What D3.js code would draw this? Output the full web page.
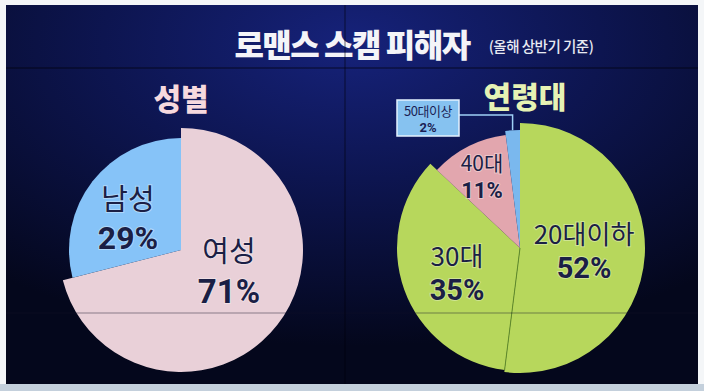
<!DOCTYPE html>
<html><head><meta charset="utf-8">
<script src="https://cdn.jsdelivr.net/npm/d3@7"></script>
<style>html,body{margin:0;padding:0;background:#fff;}svg{display:block;}</style>
</head><body>
<svg id="c" width="704" height="391"></svg>
<script>
const title = "로맨스 스캠 피해자";
const subtitle = "(올해 상반기 기준)";
const genderTitle = "성별";
const genderLabels = ["여성", "남성"];
const genderValues = [71, 29];
const ageTitle = "연령대";
const ageLabels = ["20대이하", "30대", "40대", "50대이상"];
const ageValues = [52, 35, 11, 2];

const svg = d3.select("#c");
const font = "'Noto Sans CJK KR','Noto Sans',sans-serif";
const numFont = "Roboto,'Noto Sans',sans-serif";
const defs = svg.append("defs");
const bg = defs.append("radialGradient").attr("id","bg").attr("cx","50%").attr("cy","10%").attr("r","80%");
bg.append("stop").attr("offset","0%").attr("stop-color","#16227a");
bg.append("stop").attr("offset","45%").attr("stop-color","#0d1550");
bg.append("stop").attr("offset","100%").attr("stop-color","#04071c");

// frame
svg.append("rect").attr("x",0).attr("y",0).attr("width",704).attr("height",391).attr("fill","#f4f6f8");
svg.append("rect").attr("x",0).attr("y",384).attr("width",704).attr("height",7).attr("fill","#c4d0dc");
svg.append("rect").attr("x",6).attr("y",5).attr("width",692).attr("height",379).attr("fill","url(#bg)");

// title
svg.append("text").attr("x",352).attr("y",57).attr("text-anchor","middle")
  .attr("font-family",font).attr("font-weight",900).attr("font-size",32).attr("fill","#f4f4f8")
  .attr("letter-spacing",-1.5).text(title);
svg.append("text").attr("x",541).attr("y",52).attr("text-anchor","middle")
  .attr("font-family",font).attr("font-weight",500).attr("font-size",14.5).attr("fill","#e8eaf2")
  .attr("letter-spacing",-0.5).text(subtitle);

// section titles
svg.append("text").attr("x",181).attr("y",110).attr("text-anchor","middle")
  .attr("font-family",font).attr("font-weight",900).attr("font-size",30).attr("fill","#f6d9de").text(genderTitle);
svg.append("text").attr("x",525).attr("y",108).attr("text-anchor","middle")
  .attr("font-family",font).attr("font-weight",900).attr("font-size",30).attr("fill","#e6f2b4").text(ageTitle);

const pie = d3.pie().sort(null).value(d => d);

// gender pie
const g1 = svg.append("g").attr("transform","translate(181,250)");
const gColors = d3.scaleOrdinal().domain(genderLabels).range(["#e9d0d8","#86c3f8"]);
const gRadius = d3.scaleOrdinal().domain(genderLabels).range([122, 112]);
g1.selectAll("path").data(pie(genderValues)).join("path")
  .attr("d", (d,i) => d3.arc().innerRadius(0).outerRadius(gRadius(genderLabels[i]))(d))
  .attr("fill", (d,i) => gColors(genderLabels[i]));

// age pie
const g2 = svg.append("g").attr("transform","translate(520,248)");
const aColors = d3.scaleOrdinal().domain(ageLabels).range(["#b7d75c","#b7d75c","#e2a6ae","#7ab8ee"]);
const aRadius = d3.scaleOrdinal().domain(ageLabels).range([125, 123, 114, 118]);
const agePie = pie(ageValues);
g2.selectAll("path").data(agePie).join("path")
  .attr("d", (d,i) => d3.arc().innerRadius(0).outerRadius(aRadius(ageLabels[i]))(d))
  .attr("fill", (d,i) => aColors(ageLabels[i]));
const sepA = agePie[1].startAngle;
g2.append("line").attr("x1",0).attr("y1",0)
  .attr("x2", Math.sin(sepA)*123).attr("y2", -Math.cos(sepA)*123)
  .attr("stroke","#5f8a2c").attr("stroke-width",1);

// labels
function lbl(x, y, name, val, fs1, fs2, gap) {
  const t = svg.append("g");
  t.append("text").attr("x",x).attr("y",y).attr("text-anchor","middle")
    .attr("font-family",font).attr("font-weight",400).attr("font-size",fs1).attr("fill","#1b1f45")
    .attr("stroke","rgba(255,255,255,0.35)").attr("stroke-width",2).attr("paint-order","stroke").text(name);
  t.append("text").attr("x",x).attr("y",y+gap).attr("text-anchor","middle")
    .attr("font-family",numFont).attr("font-weight",700).attr("font-size",fs2).attr("fill","#1b1f45")
    .attr("stroke","rgba(255,255,255,0.35)").attr("stroke-width",2).attr("paint-order","stroke").text(val + "%");
}
lbl(128, 210, genderLabels[1], genderValues[1], 29, 32, 39);
lbl(229, 262, genderLabels[0], genderValues[0], 29, 33, 41);
lbl(584, 244, ageLabels[0], ageValues[0], 26, 29, 34);
lbl(457, 266, ageLabels[1], ageValues[1], 26, 29, 34);
lbl(482, 171, ageLabels[2], ageValues[2], 21, 22, 27);

// callout for 50대이상
const c = agePie[3];
const ca = (c.startAngle + c.endAngle)/2;
const tipX = 520 + Math.sin(ca)*118, tipY = 248 - Math.cos(ca)*118;
svg.append("path").attr("d", `M459,115 H${tipX} V${tipY}`).attr("fill","none")
  .attr("stroke","#9fd0f6").attr("stroke-width",1.5);
svg.append("rect").attr("x",397).attr("y",100).attr("width",62).attr("height",36)
  .attr("fill","#86c2f0").attr("stroke","#e4f2ff").attr("stroke-width",1.5);
svg.append("text").attr("x",428).attr("y",116).attr("text-anchor","middle")
  .attr("font-family",font).attr("font-size",13).attr("fill","#1b1f55").attr("letter-spacing",-0.5).text(ageLabels[3]);
svg.append("text").attr("x",428).attr("y",132).attr("text-anchor","middle")
  .attr("font-family",numFont).attr("font-weight",700).attr("font-size",13).attr("fill","#1b1f55").text(ageValues[3] + "%");

// video wall seams
svg.append("line").attr("x1",6).attr("x2",698).attr("y1",313).attr("y2",313)
  .attr("stroke","rgba(20,20,40,0.45)").attr("stroke-width",1);
svg.append("line").attr("x1",6).attr("x2",698).attr("y1",68).attr("y2",68)
  .attr("stroke","rgba(0,0,10,0.35)").attr("stroke-width",2);
svg.append("line").attr("x1",345).attr("x2",345).attr("y1",5).attr("y2",384)
  .attr("stroke","rgba(0,0,10,0.3)").attr("stroke-width",2);
</script>
</body></html>
